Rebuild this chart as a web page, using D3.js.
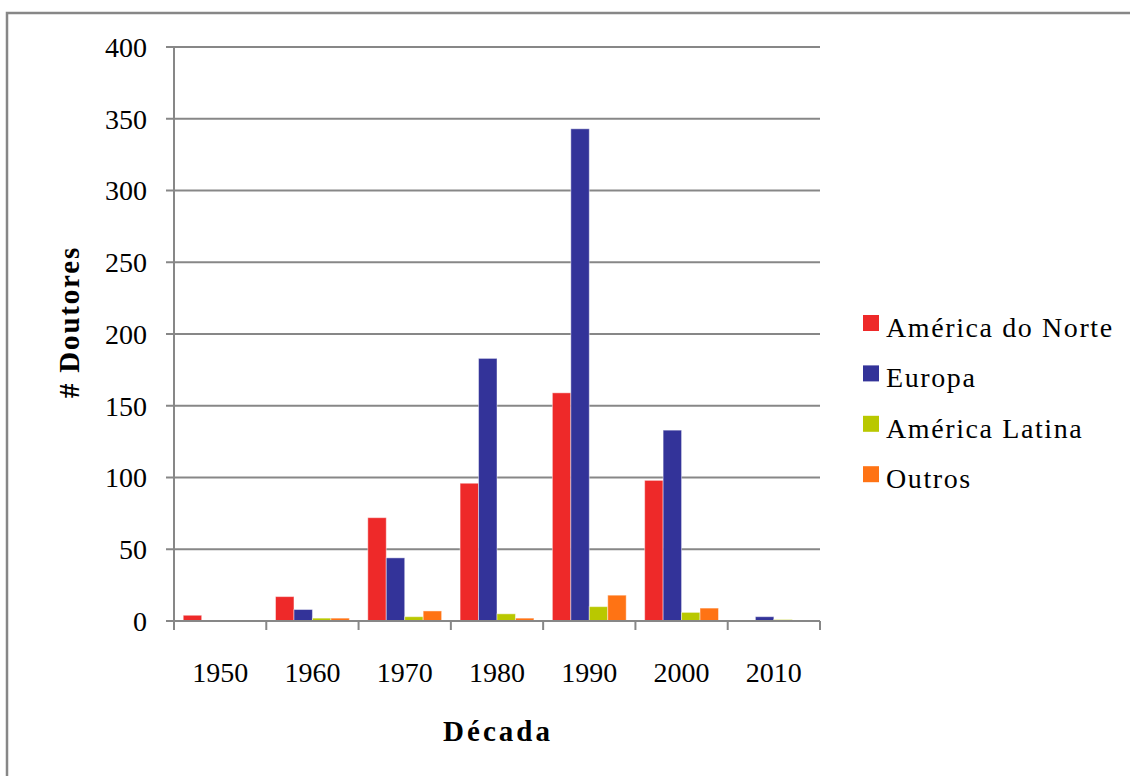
<!DOCTYPE html>
<html>
<head>
<meta charset="utf-8">
<script src="https://cdn.jsdelivr.net/npm/d3@7"></script>
<style>
  html, body { margin: 0; padding: 0; background: #fff; }
  svg { display: block; }
  text { font-family: "Liberation Serif", "Times New Roman", serif; fill: #000; }
</style>
</head>
<body>
<svg id="chart" width="1130" height="776"></svg>
<script>
// Doctors by region of origin, per decade
const decades = ["1950", "1960", "1970", "1980", "1990", "2000", "2010"];
const regions = ["América do Norte", "Europa", "América Latina", "Outros"];
const americaNorte = [4, 17, 72, 96, 159, 98, 0];
const europa = [0, 8, 44, 183, 343, 133, 3];
const americaLatina = [0, 2, 3, 5, 10, 6, 1];
const outros = [0, 2, 7, 2, 18, 9, 0];
const yTicks = [0, 50, 100, 150, 200, 250, 300, 350, 400];
const colors = ["#ee2929", "#333399", "#b9c800", "#ff7314"];

const seriesValues = [americaNorte, europa, americaLatina, outros];

const svg = d3.select("#chart");
const margin = { left: 174, right: 820, top: 47, bottom: 621 };
const axisColor = "#878787";

// outer frame
svg.append("rect")
  .attr("x", 7).attr("y", 13)
  .attr("width", 1140).attr("height", 780)
  .attr("fill", "none")
  .attr("stroke", axisColor)
  .attr("stroke-width", 2.5);

const x0 = d3.scaleBand().domain(decades).range([margin.left, margin.right]).padding(0);
const x1 = d3.scaleBand().domain(regions).range([0, x0.bandwidth()])
  .paddingInner(0).paddingOuter(0.5);
const y = d3.scaleLinear().domain([0, 400]).range([margin.bottom, margin.top]);

// horizontal gridlines with tick stubs on the left
const grid = svg.append("g");
grid.selectAll("line")
  .data(yTicks)
  .join("line")
  .attr("x1", margin.left - 8)
  .attr("x2", margin.right)
  .attr("y1", d => y(d))
  .attr("y2", d => y(d))
  .attr("stroke", axisColor)
  .attr("stroke-width", 2);

// y tick labels
svg.append("g").selectAll("text")
  .data(yTicks)
  .join("text")
  .attr("x", 147)
  .attr("y", d => y(d))
  .attr("dy", "0.35em")
  .attr("text-anchor", "end")
  .attr("font-size", 28)
  .text(d => d);

// bars
const groups = svg.append("g").selectAll("g")
  .data(decades)
  .join("g")
  .attr("transform", d => `translate(${x0(d)},0)`);

groups.selectAll("rect")
  .data((d, i) => regions.map((r, k) => ({ region: r, k, value: seriesValues[k][i] })))
  .join("rect")
  .filter(d => d.value > 0)
  .attr("x", d => x1(d.region))
  .attr("y", d => y(d.value))
  .attr("width", x1.bandwidth())
  .attr("height", d => y(0) - y(d.value))
  .attr("fill", d => colors[d.k])
  .attr("stroke", "rgba(255,255,255,0.45)")
  .attr("stroke-width", 1);

// y axis line
svg.append("line")
  .attr("x1", margin.left).attr("x2", margin.left)
  .attr("y1", margin.top).attr("y2", margin.bottom)
  .attr("stroke", axisColor).attr("stroke-width", 2);

// x axis line and category boundary ticks
svg.append("line")
  .attr("x1", margin.left - 8).attr("x2", margin.right)
  .attr("y1", margin.bottom).attr("y2", margin.bottom)
  .attr("stroke", axisColor).attr("stroke-width", 2);

const boundaries = decades.map(d => x0(d)).concat([x0(decades[decades.length - 1]) + x0.bandwidth()]);
svg.append("g").selectAll("line")
  .data(boundaries)
  .join("line")
  .attr("x1", d => d).attr("x2", d => d)
  .attr("y1", margin.bottom).attr("y2", margin.bottom + 9)
  .attr("stroke", axisColor).attr("stroke-width", 2);

// x tick labels
svg.append("g").selectAll("text")
  .data(decades)
  .join("text")
  .attr("x", d => x0(d) + x0.bandwidth() / 2)
  .attr("y", 682)
  .attr("text-anchor", "middle")
  .attr("font-size", 28)
  .text(d => d);

// axis titles
svg.append("text")
  .attr("x", (margin.left + margin.right) / 2 + 1)
  .attr("y", 741)
  .attr("text-anchor", "middle")
  .attr("font-size", 29)
  .attr("font-weight", "bold")
  .attr("letter-spacing", 3)
  .text("Década");

svg.append("text")
  .attr("transform", "translate(79,322) rotate(-90)")
  .attr("text-anchor", "middle")
  .attr("font-size", 29)
  .attr("font-weight", "bold")
  .attr("letter-spacing", 1.8)
  .text("# Doutores");

// legend
const legend = svg.append("g").selectAll("g")
  .data(regions)
  .join("g")
  .attr("transform", (d, i) => `translate(863,${315 + i * 50.4})`);

legend.append("rect")
  .attr("width", 16).attr("height", 16)
  .attr("fill", (d, i) => colors[i]);

legend.append("text")
  .attr("x", 23)
  .attr("y", 22)
  .attr("font-size", 28)
  .attr("letter-spacing", 1.6)
  .text(d => d);
</script>
</body>
</html>
